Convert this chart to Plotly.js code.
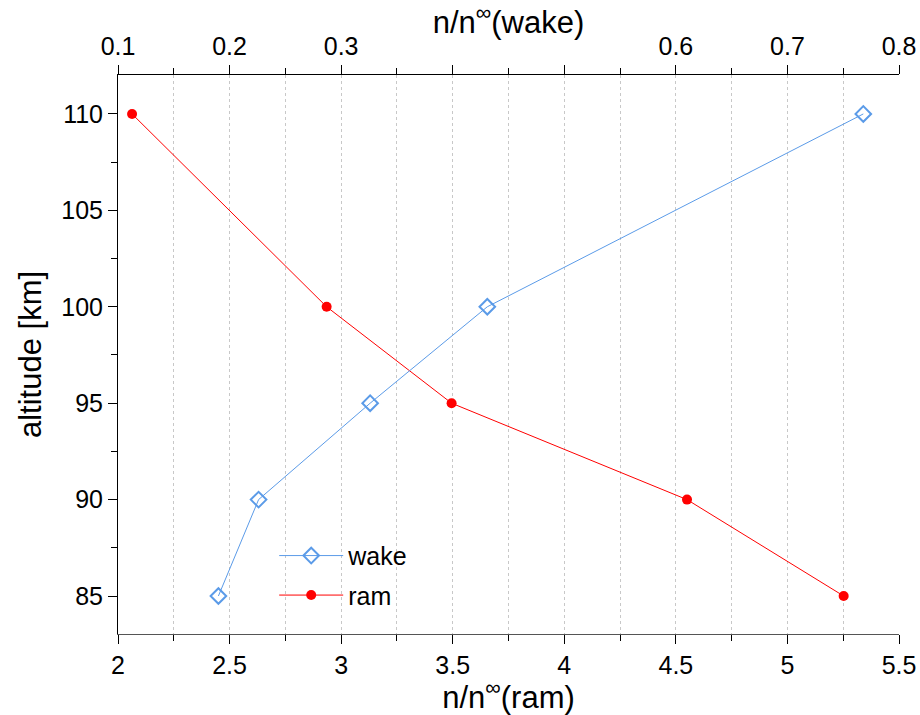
<!DOCTYPE html>
<html>
<head>
<meta charset="utf-8">
<script src="https://cdn.plot.ly/plotly-3.0.1.min.js"></script>
<style>body{margin:0;background:#fff}#chart{width:920px;height:715px}</style>
</head>
<body>
<div id="chart"></div>
<script>
const altitude = [85, 90, 95, 100, 110];
const wakeValues = [0.190, 0.226, 0.326, 0.431, 0.768];
const ramValues = [5.252, 4.55, 3.495, 2.935, 2.063];
const bottomTicks = [2, 2.5, 3, 3.5, 4, 4.5, 5, 5.5];
const bottomTickText = ['2', '2.5', '3', '3.5', '4', '4.5', '5', '5.5'];
const topTicks = [0.1, 0.2, 0.3, 0.6, 0.7, 0.8];
const topTickText = ['0.1', '0.2', '0.3', '0.6', '0.7', '0.8'];
const topHiddenTicks = [0.4, 0.5];
const yTicks = [85, 90, 95, 100, 105, 110];

const FONT = 'Liberation Sans, Arial, Helvetica, sans-serif';

const traces = [
  {
    x: wakeValues, y: altitude, name: 'wake', xaxis: 'x2', yaxis: 'y',
    mode: 'lines+markers', legendgroup: 'a',
    line: {color: '#5b9be8', width: 1},
    marker: {symbol: 'diamond-open', size: 12, color: '#5b9be8', line: {width: 2, color: '#5b9be8'}}
  },
  {
    x: ramValues, y: altitude, name: 'ram', xaxis: 'x', yaxis: 'y',
    mode: 'lines+markers', legendgroup: 'b',
    line: {color: '#ff0000', width: 1},
    marker: {symbol: 'circle', size: 10, color: '#ff0000'}
  },
  {x: topHiddenTicks, y: [null, null], xaxis: 'x3', yaxis: 'y', mode: 'markers', showlegend: false, hoverinfo: 'skip'}
];

const layout = {
  width: 920, height: 715,
  margin: {l: 118, r: 21, t: 75, b: 81},
  paper_bgcolor: '#fff', plot_bgcolor: '#fff',
  font: {family: FONT, color: '#000', size: 25},
  showlegend: true,
  legend: {x: 0.2, y: 0.181, xanchor: 'left', yanchor: 'top', bgcolor: 'rgba(0,0,0,0)',
           font: {size: 25}, traceorder: 'grouped', tracegroupgap: 4, itemwidth: 64},
  xaxis: {
    range: [2, 5.5], tickvals: bottomTicks, ticktext: bottomTickText,
    ticks: 'outside', ticklen: 9, tickcolor: '#000', tickwidth: 1,
    showline: true, linecolor: '#555', linewidth: 1, mirror: false,
    showgrid: true, gridcolor: '#c8c8c8', griddash: 'dot', gridwidth: 1,
    zeroline: false,
    minor: {dtick: 0.25, tick0: 2, ticks: 'outside', ticklen: 6, tickcolor: '#000', showgrid: true, gridcolor: '#c8c8c8', griddash: 'dot'},
    title: {text: 'n/n<sup>∞</sup>(ram)', font: {size: 31}, standoff: 0}
  },
  xaxis2: {
    overlaying: 'x', side: 'top', anchor: 'y',
    range: [0.1, 0.8], tickvals: topTicks, ticktext: topTickText,
    ticks: 'outside', ticklen: 9, tickcolor: '#000',
    showline: true, linecolor: '#000', linewidth: 1,
    showgrid: false, zeroline: false,
    minor: {dtick: 0.05, tick0: 0.1, ticks: 'outside', ticklen: 6, tickcolor: '#000', showgrid: false},
    title: {text: 'n/n<sup>∞</sup>(wake)', font: {size: 31}, standoff: 3}
  },
  xaxis3: {
    overlaying: 'x', side: 'top', anchor: 'y',
    range: [0.1, 0.8], tickvals: topHiddenTicks, showticklabels: false,
    ticks: 'outside', ticklen: 9, tickcolor: '#000',
    showline: false, showgrid: false, zeroline: false
  },
  yaxis: {
    range: [83.03, 112.02], tickvals: yTicks,
    ticks: 'outside', ticklen: 9, tickcolor: '#000',
    showline: true, linecolor: '#000', linewidth: 1,
    showgrid: false, zeroline: false,
    minor: {dtick: 2.5, tick0: 85, ticks: 'outside', ticklen: 6, tickcolor: '#000', showgrid: false},
    title: {text: 'altitude [km]', font: {size: 31}, standoff: 10}
  }
};

Plotly.newPlot('chart', traces, layout, {displayModeBar: false, staticPlot: true});
</script>
</body>
</html>
